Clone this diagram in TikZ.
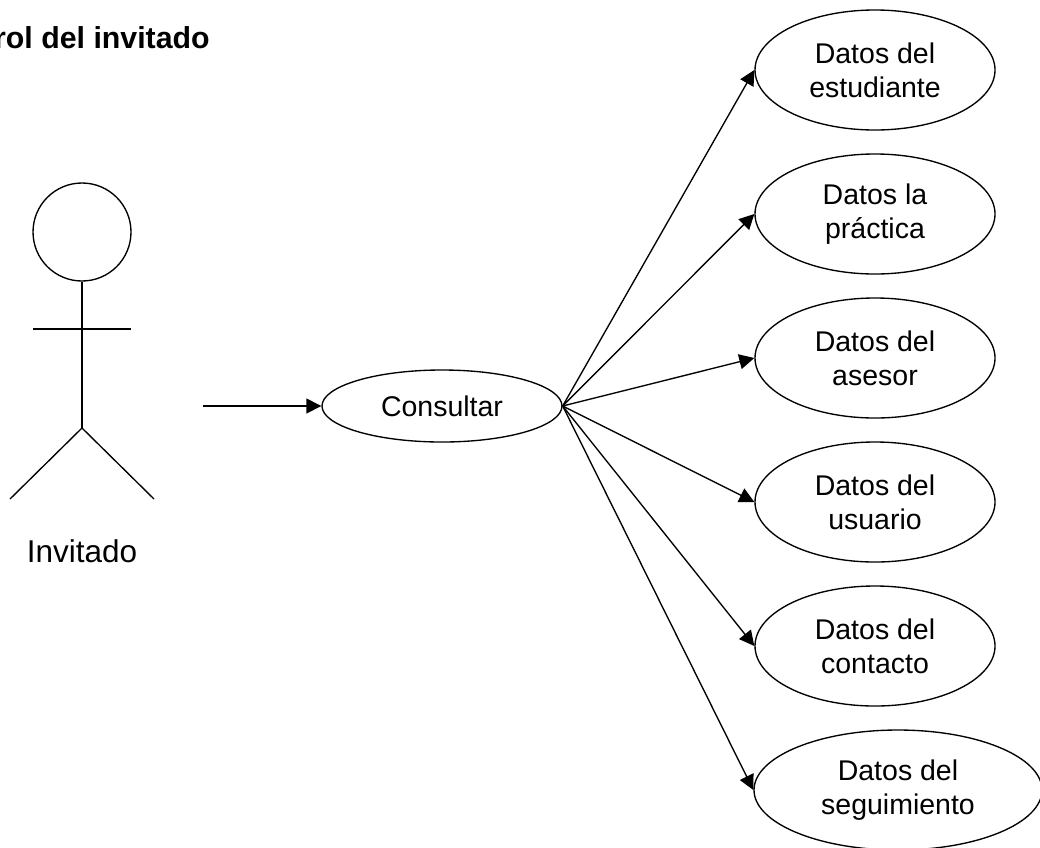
\documentclass[tikz,border=0pt]{standalone}
\usepackage{fontspec}
\setmainfont{Liberation Sans}
\usetikzlibrary{shapes.geometric,arrows.meta}
\tikzset{
 lin/.style={draw=black,line width=1.35pt},
 uc/.style={lin,ellipse,minimum width=240pt,minimum height=120pt,inner sep=0pt,align=center,font=\fontsize{28.5pt}{34pt}\selectfont},
 arr/.style={lin,-{Triangle[length=15pt,width=15pt]}},
}
\begin{document}
\begin{tikzpicture}[x=1pt,y=1pt]
\useasboundingbox (0,0) rectangle (1040,-847);
\clip (0,0) rectangle (1040,-847);
\node[anchor=base west,inner sep=0pt,font=\fontsize{30.3pt}{34pt}\selectfont\bfseries] (title) at (-75,-48) {Control del invitado};
% actor
\node[lin,circle,minimum size=98pt,inner sep=0pt] (head) at (82,-232) {};
\coordinate (hip) at (82,-428);
\coordinate (armL) at (33,-329);
\coordinate (armR) at (131,-329);
\coordinate (footL) at (10,-499);
\coordinate (footR) at (154,-499);
\draw[lin] (head.south) -- (hip);
\draw[lin] (armL) -- (armR);
\draw[lin] (footL) -- (hip) -- (footR);
\node[anchor=base,inner sep=0pt,font=\fontsize{31.5pt}{36pt}\selectfont] (inv) at (82,-562) {Invitado};
% ellipses
\node[uc] (e1) at (875,-70) {Datos del\\estudiante};
\node[uc] (e2) at (875,-214) {Datos la\\práctica};
\node[uc] (e3) at (875,-358) {Datos del\\asesor};
\node[uc] (e4) at (875,-502) {Datos del\\usuario};
\node[uc] (e5) at (875,-646) {Datos del\\contacto};
\node[uc,minimum width=288pt] (e6) at (898,-790) {Datos del\\seguimiento};
\node[uc,minimum height=72pt] (c) at (442,-406) {Consultar};
\coordinate (start) at (203,-406);
\draw[arr] (start) -- (c.west);
\foreach \t in {e1,e2,e3,e4,e5,e6}{
 \draw[arr] (c.east) -- (\t.west);
}
\end{tikzpicture}
\end{document}
